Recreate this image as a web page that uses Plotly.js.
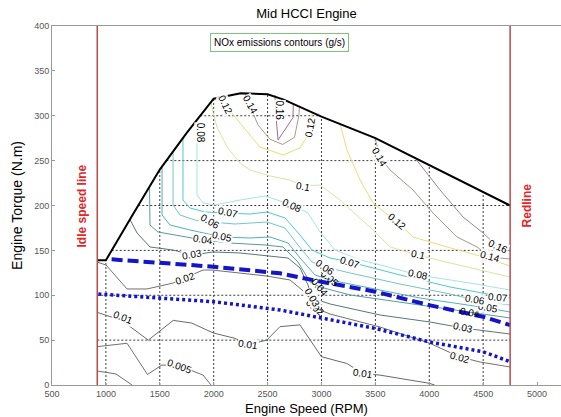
<!DOCTYPE html>
<html>
<head>
<meta charset="utf-8">
<script src="https://cdn.plot.ly/plotly-3.0.1.min.js"></script>
<style>html,body{margin:0;padding:0;background:#fff;}#chart{width:561px;height:417px;}</style>
</head>
<body>
<div id="chart"></div>
<script>
// ---------------- DATA ----------------
const speedTicks = [500, 1000, 1500, 2000, 2500, 3000, 3500, 4000, 4500, 5000];
const torqueTicks = [0, 50, 100, 150, 200, 250, 300, 350, 400];
const gridSpeeds = [1000, 1500, 2000, 2500, 3000, 3500, 4000, 4500];
const gridTorques = [50, 100, 150, 200, 250, 300, 350];

const idleSpeed = 920;
const redlineSpeed = 4750;

// full-load envelope
const envSpeed  = [920, 1000, 1250, 1500, 1750, 2000, 2250, 2500, 2650, 3000, 3500, 4000, 4750];
const envTorque = [139, 139, 190, 240, 281, 319, 325, 324, 318, 299, 275, 245, 200];

// blue dashed line
const dashSpeed  = [1053, 2000, 2615, 3000, 3500, 4000, 4500, 4750];
const dashTorque = [140, 131.8, 124.4, 115, 104, 89, 76, 66.8];
// blue dotted line
const dotSpeed  = [930, 2000, 2615, 3000, 3500, 4000, 4500, 4750];
const dotTorque = [101.4, 92.8, 83.6, 74.3, 63, 48, 37, 26];

// NOx contour lines (g/s)
const nox0025Speed  = [918, 1094, 1242];
const nox0025Torque = [15.6, 12.3, 0];
const nox005Speed  = [918, 1196, 1386, 1520, 1687, 1901, 1975];
const nox005Torque = [42.7, 46.5, 11.7, 22.3, 21.2, 11.1, 0];
const nox01Speed  = [918, 1146, 1393, 1625, 1796, 1996, 2197, 2318, 2492, 2615, 2800, 3000, 3234, 3385, 3543, 3997, 4050];
const nox01Torque = [81, 72, 50, 72, 69, 58, 52, 45, 50, 65, 67, 31.5, 24, 13, 11, 2, 0];
const nox02Speed  = [918, 1001, 1196, 1381, 1623, 1734, 1901, 1984, 2244, 2495, 2708, 2820, 2894, 2940, 3079, 3543, 3998, 4285, 4471, 4749];
const nox02Torque = [137, 133.7, 107, 107, 113.6, 119.2, 128.1, 128.1, 124.8, 121.4, 117, 105.8, 94.7, 85.8, 79.1, 64.6, 46.8, 31.2, 25.6, 20.1];
const nox03Speed  = [1225, 1289, 1409, 1623, 1799, 1994, 2244, 2495, 2690, 2801, 2875, 2912, 3079, 3543, 4007, 4313, 4749];
const nox03Torque = [184, 169.4, 153.8, 150.4, 144.8, 148.2, 147.1, 143.7, 141.5, 130.4, 111.4, 96.9, 90.3, 78, 70.2, 63.5, 56.8];
const nox04Speed  = [1405, 1409, 1483, 1734, 1901, 2151, 2476, 2643, 2782, 2894, 2987, 3265, 3914, 4378, 4749];
const nox04Torque = [220, 178.3, 170.5, 164.9, 161.6, 158.2, 156, 153.8, 137, 114.8, 109.2, 100.3, 89.1, 81.3, 74.7];
const nox05Speed  = [1521, 1521, 1595, 1780, 2077, 2337, 2523, 2690, 2801, 2940, 3079, 3358, 3914, 4545, 4749];
const nox05Torque = [242, 189.4, 178.3, 172.7, 164.9, 163.8, 164.9, 158.2, 141.5, 122.6, 117, 110.3, 96.9, 85.8, 81.3];
const nox06Speed  = [1623, 1623, 1688, 1827, 1966, 2198, 2495, 2662, 2782, 2912, 3033, 3265, 3729, 4193, 4424, 4749];
const nox06Torque = [259, 200.6, 189.4, 183.8, 181.6, 179.4, 181.6, 174.9, 156, 137, 131.5, 124.8, 112.5, 101.4, 94.7, 89.1];
const nox07Speed  = [1715, 1715, 1780, 1920, 2133, 2337, 2495, 2662, 2801, 2912, 3079, 3265, 3729, 4193, 4638, 4749];
const nox07Torque = [274, 206.1, 197.2, 192.8, 191.6, 190.5, 192.8, 186.1, 167.1, 150.4, 141.5, 137, 122.6, 109.2, 99.2, 96.9];
const nox08Speed  = [1845, 1845, 1901, 2012, 2244, 2476, 2727, 2875, 2987, 3126, 3358, 3478, 3896, 4378, 4749];
const nox08Torque = [294, 211.7, 202.8, 200.6, 206.1, 210.6, 200.6, 191.6, 170.5, 150.4, 139.3, 135.9, 122.6, 113.6, 105.8];
const nox10Speed  = [1975, 1994, 2031, 2124, 2244, 2337, 2523, 2708, 2829, 2987, 3172, 3478, 3636, 3896, 4193, 4471, 4749];
const nox10Torque = [315, 303.1, 287.5, 265.2, 247.4, 239.6, 232.9, 228.4, 221.7, 222.8, 206.1, 172.7, 153.8, 144.8, 135.9, 128.1, 120.3];
const nox12aSpeed  = [2040, 2105, 2244, 2429, 2643, 2801, 2875, 2894, 2915];
const nox12aTorque = [320, 312, 291.9, 265.2, 256.3, 264.1, 278.6, 287.5, 303];
const nox12bSpeed  = [3172, 3237, 3358, 3478, 3701, 3849, 4165, 4471, 4749];
const nox12bTorque = [290.8, 261.8, 228.4, 202.8, 181.6, 164.9, 153.8, 143.7, 132.6];
const nox14aSpeed  = [2290, 2337, 2410, 2520, 2640, 2750, 2790, 2795];
const nox14aTorque = [325, 312, 290, 274, 268, 276, 300, 310];
const nox14bSpeed  = [3497, 3543, 3636, 3849, 4035, 4258, 4443, 4564, 4749];
const nox14bTorque = [275.2, 254, 239.6, 217.3, 191.6, 164.9, 153.8, 142.6, 140.4];
const nox16aSpeed  = [2568, 2578, 2597, 2640, 2700, 2736, 2738];
const nox16aTorque = [323, 300, 273, 281, 291, 298, 313];
const nox16bSpeed  = [3880, 4100, 4313, 4499, 4638, 4749];
const nox16bTorque = [251, 217.3, 187.2, 169.4, 153.8, 149.3];

// contour labels
const labelText   = ['0.005','0.01','0.01','0.01','0.02','0.02','0.02','0.03','0.03','0.03',
                     '0.04','0.04','0.04','0.05','0.05','0.05','0.06','0.06','0.06',
                     '0.07','0.07','0.07','0.08','0.08','0.08','0.1','0.1',
                     '0.12','0.12','0.12','0.14','0.14','0.14','0.16','0.16'];
const labelSpeed  = [1687, 1159, 2318, 3385, 1734, 2940, 4285, 1799, 2912, 4313,
                     1901, 2987, 4378, 2077, 3079, 4545, 1966, 3033, 4424,
                     2133, 3264, 4638, 1873, 2727, 3895, 2828, 3895,
                     2105, 2893, 3700, 2337, 3543, 4563, 2615, 4637];
const labelTorque = [21, 75, 45, 13, 119, 86, 31, 145, 97, 64,
                     162, 109, 81, 165, 119, 86, 182, 131, 95,
                     192, 137, 97, 281, 200, 123, 221, 145,
                     312, 287, 182, 312, 254, 143, 306, 154];
const labelAngle  = [20, 22, 8, 8, -18, 40, 15, -10, 60, 12,
                     10, 50, 10, 12, 40, 10, 30, 35, 10,
                     12, 18, 5, 90, 25, 12, 10, 12,
                     65, -80, 40, 60, 60, 15, 90, 25];

// ---------------- BUILD ----------------
const contourDefs = [
  [nox0025Speed, nox0025Torque, '#707070'],
  [nox005Speed, nox005Torque, '#707070'],
  [nox01Speed, nox01Torque, '#6a6a6a'],
  [nox02Speed, nox02Torque, '#707070'],
  [nox03Speed, nox03Torque, '#5a7676'],
  [nox04Speed, nox04Torque, '#5a9a9a'],
  [nox05Speed, nox05Torque, '#52b0b4'],
  [nox06Speed, nox06Torque, '#72c6c8'],
  [nox07Speed, nox07Torque, '#4ccad4'],
  [nox08Speed, nox08Torque, '#a8e2e4'],
  [nox10Speed, nox10Torque, '#d6e6a0'],
  [nox12aSpeed, nox12aTorque, '#e6de78'],
  [nox12bSpeed, nox12bTorque, '#e6de78'],
  [nox14aSpeed, nox14aTorque, '#ab9c82'],
  [nox14bSpeed, nox14bTorque, '#a09888'],
  [nox16aSpeed, nox16aTorque, '#a06c98'],
  [nox16bSpeed, nox16bTorque, '#9a8498']
];

function envAt(s) {
  for (let i = 0; i < envSpeed.length - 1; i++) {
    if (s >= envSpeed[i] && s <= envSpeed[i + 1]) {
      return envTorque[i] + (s - envSpeed[i]) / (envSpeed[i + 1] - envSpeed[i]) * (envTorque[i + 1] - envTorque[i]);
    }
  }
  return null;
}
function crossSpeed(T, side) {
  let imax = 0;
  envTorque.forEach((v, i) => { if (v > envTorque[imax]) imax = i; });
  const last = envTorque.length - 1;
  if (side === 'left') {
    if (T <= envTorque[0]) return idleSpeed;
    for (let i = 0; i < imax; i++) {
      const a = envTorque[i], b = envTorque[i + 1];
      if (b > a && T >= a && T <= b) return envSpeed[i] + (T - a) / (b - a) * (envSpeed[i + 1] - envSpeed[i]);
    }
  } else {
    if (T <= envTorque[last]) return redlineSpeed;
    for (let i = imax; i < last; i++) {
      const a = envTorque[i], b = envTorque[i + 1];
      if (a > b && T <= a && T >= b) return envSpeed[i] + (a - T) / (a - b) * (envSpeed[i + 1] - envSpeed[i]);
    }
  }
  return null;
}

const gx = [], gy = [];
gridSpeeds.forEach(s => { const t = envAt(s); if (t !== null) { gx.push(s, s, null); gy.push(0, t, null); } });
gridTorques.forEach(T => {
  const l = crossSpeed(T, 'left'), r = crossSpeed(T, 'right');
  if (l !== null && r !== null) { gx.push(l, r, null); gy.push(T, T, null); }
});

const traces = [];
traces.push({x: gx, y: gy, mode: 'lines', line: {color: '#3a3a3a', width: 1, dash: '2px,2px'}, hoverinfo: 'skip'});
contourDefs.forEach(c => {
  traces.push({x: c[0], y: c[1], mode: 'lines', line: {color: c[2], width: 1}, hoverinfo: 'skip'});
});
traces.push({x: envSpeed, y: envTorque, mode: 'lines', line: {color: '#000', width: 2}});
traces.push({x: dashSpeed, y: dashTorque, mode: 'lines', line: {color: '#1414c8', width: 4, dash: '11px,5px'}});
traces.push({x: dotSpeed, y: dotTorque, mode: 'lines', line: {color: '#1414c8', width: 3.5, dash: '3px,3px'}});
traces.push({x: [idleSpeed, idleSpeed], y: [0, 400], mode: 'lines', line: {color: '#b84a4a', width: 1.5}});
traces.push({x: [redlineSpeed, redlineSpeed], y: [0, 400], mode: 'lines', line: {color: '#b84a4a', width: 1.5}});

const FONT = 'Liberation Sans, Arial, sans-serif';
const noBg = {'0.02|2940': 1, '0.04|2987': 1, '0.05|3079': 1, '0.04|4378': 1};
const annotations = labelText.map((t, i) => ({
  x: labelSpeed[i], y: labelTorque[i], xref: 'x', yref: 'y', text: t, showarrow: false,
  textangle: labelAngle[i], font: {family: FONT, size: 10, color: '#000'},
  bgcolor: noBg[t + '|' + labelSpeed[i]] ? 'rgba(0,0,0,0)' : 'rgba(255,255,255,0.9)', borderpad: 0
}));
annotations.push({x: 2615, y: 382, xref: 'x', yref: 'y', text: 'NOx emissions contours (g/s)', showarrow: false,
  font: {family: FONT, size: 10, color: '#000'}, bgcolor: '#fff', bordercolor: '#7cc47c', borderwidth: 1, borderpad: 3});
annotations.push({x: 778, y: 200, xref: 'x', yref: 'y', text: '<b>Idle speed line</b>', showarrow: false, textangle: -90,
  font: {family: FONT, size: 12, color: '#e02828'}});
annotations.push({x: 4906, y: 200, xref: 'x', yref: 'y', text: '<b>Redline</b>', showarrow: false, textangle: -90,
  font: {family: FONT, size: 12, color: '#e02828'}});

const layout = {
  width: 561, height: 417,
  margin: {l: 52, r: 0, t: 26, b: 32, pad: 0},
  paper_bgcolor: '#fff', plot_bgcolor: '#fff',
  showlegend: false,
  title: {text: 'Mid HCCI Engine', font: {family: FONT, size: 13, color: '#000'}, xref: 'paper', x: 0.5, xanchor: 'center', yref: 'container', y: 0.968, yanchor: 'middle'},
  xaxis: {
    range: [500, 5222], tickvals: speedTicks, ticktext: speedTicks.map(String),
    showgrid: false, zeroline: false, showline: true, linecolor: '#999', linewidth: 1, mirror: true,
    ticks: 'inside', ticklen: 3, tickcolor: '#999', tickfont: {family: FONT, size: 9, color: '#555'},
    title: {text: 'Engine Speed (RPM)', font: {family: FONT, size: 13, color: '#000'}, standoff: 6}
  },
  yaxis: {
    range: [0, 400], tickvals: torqueTicks, ticktext: torqueTicks.map(String),
    showgrid: false, zeroline: false, showline: true, linecolor: '#999', linewidth: 1,
    ticks: 'inside', ticklen: 3, tickcolor: '#999', tickfont: {family: FONT, size: 9, color: '#555'},
    title: {text: 'Engine Torque (N.m)', font: {family: FONT, size: 14, color: '#000'}, standoff: 8}
  },
  annotations: annotations
};

Plotly.newPlot('chart', traces, layout, {displayModeBar: false, staticPlot: true});
</script>
</body>
</html>
